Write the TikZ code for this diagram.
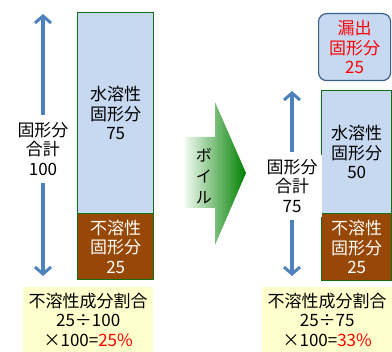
\documentclass[tikz,border=0pt]{standalone}
\usepackage{fontspec}
\setmainfont{Noto Sans CJK JP}
\usetikzlibrary{arrows.meta}
\definecolor{lblue}{RGB}{198,217,240}
\definecolor{bgreen}{RGB}{20,110,20}
\definecolor{brownf}{RGB}{152,72,6}
\definecolor{arrblue}{RGB}{79,129,189}
\definecolor{redbd}{RGB}{60,95,140}
\definecolor{yel}{RGB}{255,255,206}
\definecolor{agreen}{RGB}{0,128,0}
\definecolor{agreenl}{RGB}{240,250,240}
\begin{document}
\begin{tikzpicture}[x=1pt,y=-1pt,
  txt/.style={font=\fontsize{17}{19.5}\selectfont, align=center, inner sep=0pt},
  solbox/.style={draw=bgreen, line width=1.4pt, fill=lblue, anchor=north west, txt},
  insbox/.style={draw=bgreen, line width=1.4pt, fill=brownf, text=white, anchor=north west, txt},
  yelbox/.style={fill=yel, anchor=north west, txt},
  barrow/.style={draw=arrblue, line width=3.5pt, -{Straight Barb[length=7pt,width=16pt,line width=3pt]}},
  sumtxt/.style={txt, fill=white, inner sep=4pt}
]
\useasboundingbox (0,0) rectangle (392,352);

% left column
\node[solbox, minimum width=76pt, minimum height=201pt] (lsol) at (77,12) {水溶性\\固形分\\75};
\node[insbox, minimum width=76pt, minimum height=66pt] (lins) at (77,213) {不溶性\\固形分\\25};
\node[sumtxt] (lsum) at (43,149) {固形分\\合計\\100};
\coordinate (ltop) at (43,14);
\coordinate (lbot) at (43,276);
\draw[barrow, shorten <=3pt] (lsum.north) -- (ltop);
\draw[barrow, shorten <=3pt] (lsum.south) -- (lbot);
\node[yelbox, minimum width=130pt, minimum height=65pt] (lyel) at (23,287) {不溶性成分割合\\25÷100\\×100=\textcolor{red}{25\%}};

% boil arrow
\shade[left color=agreenl, right color=agreen]
  (185,137) -- (215,137) -- (215,102) -- (246,173) -- (215,245) -- (215,208) -- (185,208) -- cycle;
\node[txt, font=\fontsize{16}{21}\selectfont] (boil) at (204,176) {ボ\\イ\\ル};

% right column
\node[draw=redbd, line width=1.2pt, fill=lblue, rounded corners=8pt, anchor=north west, txt,
  text=red, minimum width=72pt, minimum height=67pt] (leak) at (318,13) {漏出\\固形分\\25};
\node[solbox, minimum width=70pt, minimum height=123pt] (rsol) at (321,90) {水溶性\\固形分\\50};
\node[insbox, minimum width=70pt, minimum height=67pt] (rins) at (321,213) {不溶性\\固形分\\25};
\node[sumtxt] (rsum) at (292,186) {固形分\\合計\\75};
\coordinate (rtop) at (292,91);
\coordinate (rbot) at (292,276);
\draw[barrow, shorten <=3pt] (rsum.north) -- (rtop);
\draw[barrow, shorten <=3pt] (rsum.south) -- (rbot);
\node[yelbox, minimum width=130pt, minimum height=65pt] (ryel) at (262,287) {不溶性成分割合\\25÷75\\×100=\textcolor{red}{33\%}};
\end{tikzpicture}
\end{document}
